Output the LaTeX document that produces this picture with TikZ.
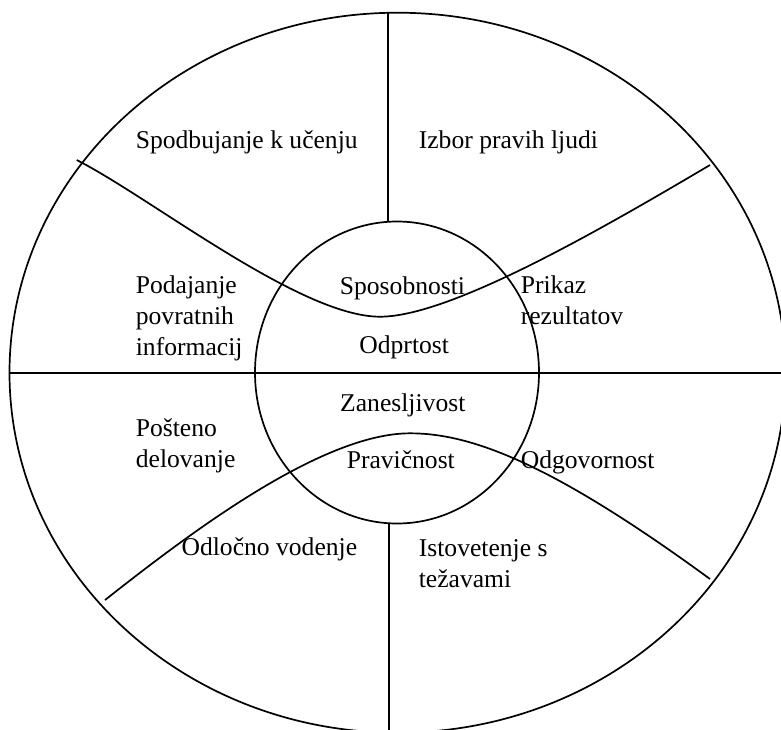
\documentclass[tikz,border=0pt]{standalone}
\usepackage{fontspec}
\setmainfont{Liberation Serif}
\begin{document}
\begin{tikzpicture}[x=1pt,y=-1pt,line width=1.7pt,
  lbl/.style={font=\fontsize{25.6}{31}\selectfont,inner sep=0pt,anchor=base west,align=left},
  lblc/.style={font=\fontsize{25.6}{31}\selectfont,inner sep=0pt,anchor=base}]
\useasboundingbox (0,0) rectangle (781,729);
\clip (0,0) rectangle (781,729);
% centres
\coordinate (oc) at (397.5,372.7);
\coordinate (ic) at (397,372.5);
% outer and inner ring
\draw (oc) ellipse [x radius=388pt,y radius=360pt];
\draw (ic) ellipse [x radius=142pt,y radius=151pt];
% dividing lines
\coordinate (vtop) at (388,12.7);
\coordinate (vtopin) at (388,221.5);
\coordinate (vbotin) at (389,523.5);
\coordinate (vbot) at (389,740);
\coordinate (hl) at (9.5,372.7);
\coordinate (hr) at (790,372.7);
\draw (vtop) -- (vtopin);
\draw (vbotin) -- (vbot);
\draw (hl) -- (hr);
% upper wave
\coordinate (ua) at (76.7,160);
\coordinate (um) at (380,316.7);
\coordinate (ub) at (710,165);
\draw (ua) .. controls (150,197) and (300,316.7) .. (um)
           .. controls (450,316.7) and (600,230) .. (ub);
% lower wave
\coordinate (la) at (105,600);
\coordinate (lm) at (410,433.3);
\coordinate (lb) at (710,579);
\draw (la) .. controls (185,537) and (320,433.3) .. (lm)
           .. controls (470,433.3) and (550,462) .. (lb);
% labels (multi-line labels are placed by the baseline of their last line)
\node[lbl] (t1) at (135,148.3) {Spodbujanje k učenju};
\node[lbl] (t2) at (418,148.3) {Izbor pravih ljudi};
\node[lbl] (t3) at (135,355.3) {Podajanje\\povratnih\\informacij};
\node[lblc] (t4) at (402.5,294) {Sposobnosti};
\node[lbl] (t5) at (520,324.3) {Prikaz\\rezultatov};
\node[lblc] (t6) at (404.2,353.3) {Odprtost};
\node[lblc] (t7) at (402.8,411) {Zanesljivost};
\node[lbl] (t8) at (135,467) {Pošteno\\delovanje};
\node[lblc] (t9) at (400.8,468.3) {Pravičnost};
\node[lbl] (t10) at (520,468.3) {Odgovornost};
\node[lbl] (t11) at (180.7,555) {Odločno vodenje};
\node[lbl] (t12) at (418,587) {Istovetenje s\\težavami};
\end{tikzpicture}
\end{document}
